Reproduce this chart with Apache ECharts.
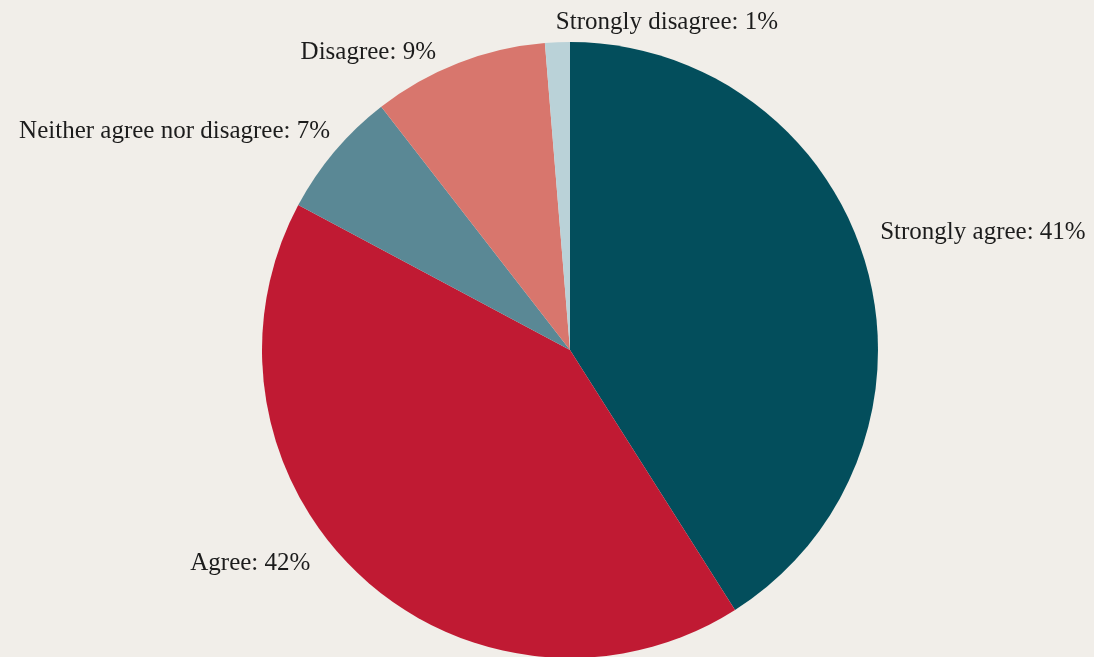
<!DOCTYPE html>
<html>
<head>
<meta charset="utf-8">
<script src="https://cdn.jsdelivr.net/npm/echarts@6/dist/echarts.min.js"></script>
<style>
  html, body { margin: 0; padding: 0; background: #f1eee9; }
  #chart { width: 1094px; height: 657px; }
</style>
</head>
<body>
<div id="chart"></div>
<script>
// survey answers, share of respondents (%)
const answers = ["Strongly agree", "Agree", "Neither agree nor disagree", "Disagree", "Strongly disagree"];
const shares = [41, 41.8, 6.7, 9.2, 1.3];
const colors = ["#034e5c", "#c01a33", "#5a8895", "#d8766d", "#bad2d8"];

// small label nudges [dx, dy, align] so labels sit like the original
const labelShift = [[-5, -27], [-35, -23], [12, -10], [-12, 3], [4, -5, "left"]];

const chart = echarts.init(document.getElementById("chart"));
chart.setOption({
  backgroundColor: "#f1eee9",
  series: [{
    type: "pie",
    center: [570, 350],
    radius: 308,
    startAngle: 90,
    clockwise: true,
    animation: false,
    avoidLabelOverlap: false,
    label: {
      position: "outside",
      fontFamily: "Liberation Serif",
      fontSize: 25,
      color: "#1c1c1c",
      formatter: p => p.name + ": " + Math.round(p.percent) + "%"
    },
    labelLine: { show: false, length: 15, length2: 0 },
    labelLayout: p => {
      const s = labelShift[p.dataIndex];
      const out = { dx: s[0], dy: s[1], hideOverlap: false };
      if (s[2]) out.align = s[2];
      return out;
    },
    itemStyle: { borderWidth: 0 },
    emphasis: { disabled: true },
    data: answers.map((name, i) => ({
      name: name,
      value: shares[i],
      itemStyle: { color: colors[i] }
    }))
  }]
});
</script>
</body>
</html>
